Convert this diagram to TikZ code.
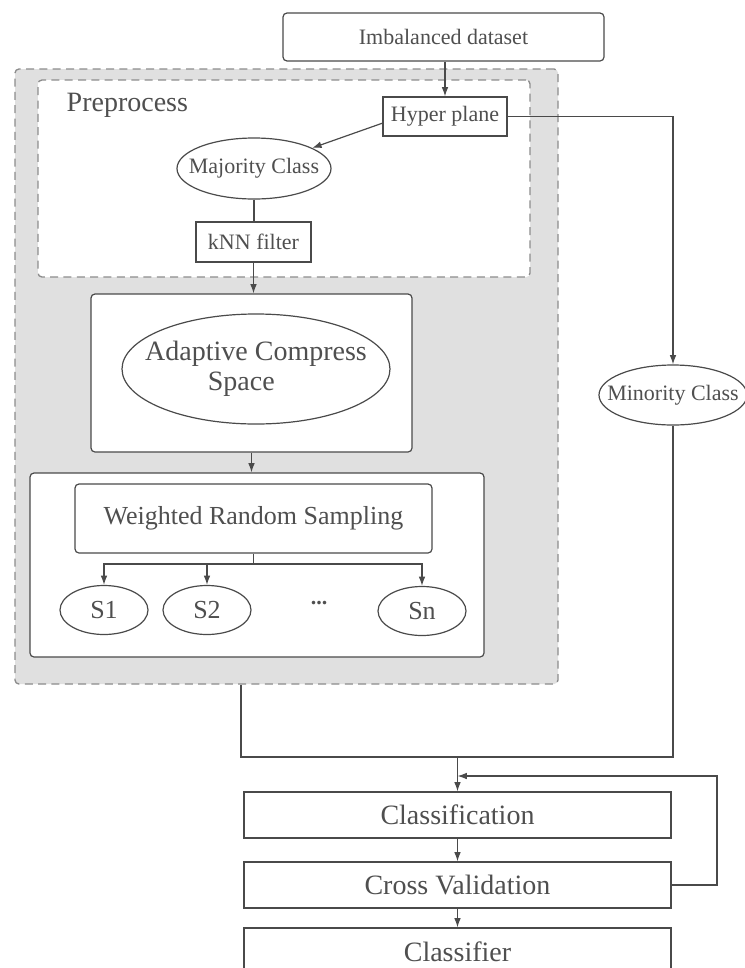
\documentclass[tikz,border=0pt]{standalone}
\usepackage{fontspec}
\setmainfont{Liberation Serif}
\usetikzlibrary{arrows.meta,shapes.geometric,calc}
\definecolor{lc}{HTML}{4A4A4A}
\definecolor{tc}{HTML}{4F4F4F}
\definecolor{gfill}{HTML}{E0E0E0}
\definecolor{gdash}{HTML}{8C8C8C}
\tikzset{
  ln/.style={draw=lc, line width=0.9pt},
  ar/.style={ln, -{Latex[length=7pt,width=5pt]}},
  bx/.style={draw=lc, line width=0.9pt, fill=white, inner sep=0pt, text=tc, align=center},
  rbx/.style={bx, rounded corners=3pt},
  ell/.style={draw=lc, line width=0.9pt, fill=white, ellipse, inner sep=0pt},
  lbl/.style={text=tc, align=center, inner sep=0pt},
  dbox/.style={draw=gdash, line width=1pt, dash pattern=on 6pt off 4pt, rounded corners=3pt, inner sep=0pt},
  fA/.style={font=\fontsize{16.5pt}{19pt}\selectfont},
  fB/.style={font=\fontsize{21pt}{22.5pt}\selectfont},
  fC/.style={font=\fontsize{19.5pt}{22pt}\selectfont},
}
\begin{document}
\begin{tikzpicture}[x=0.75pt,y=-0.75pt]
\clip (0,0) rectangle (745,968);
\fill[white] (0,0) rectangle (745,968);
% containers
\node[dbox, fill=gfill, minimum width=407.25pt, minimum height=461.25pt] (pre) at (286.5,376.5) {};
\node[dbox, fill=white, minimum width=369pt, minimum height=147.75pt] (inner) at (284,178.5) {};
\node[fB, text=tc, anchor=west] (prelbl) at (62,105) {Preprocess};
% nodes
\node[rbx, fA, minimum width=240.75pt, minimum height=36pt] (imb) at (443.5,37) {Imbalanced dataset};
\node[bx, fA, minimum width=93pt, minimum height=29.25pt] (hyper) at (445,116.5) {Hyper plane};
\node[ell, minimum width=115.5pt, minimum height=45.75pt] (maj) at (254,168.5) {};
\node[lbl, fA] (majt) at (maj.center) {Majority Class};
\node[bx, fA, minimum width=86.25pt, minimum height=30pt] (knn) at (253.5,242) {kNN filter};
\node[rbx, minimum width=240.75pt, minimum height=118.5pt] (acsbox) at (251.5,373) {};
\node[ell, minimum width=201pt, minimum height=82.5pt] (acs) at (256,369) {};
\node[lbl, fB] (acst) at (acs.center) {Adaptive Compress\\Space\hspace*{22pt}};
\node[rbx, minimum width=340.5pt, minimum height=138pt] (wrsout) at (257,565) {};
\node[rbx, fC, minimum width=267.75pt, minimum height=51.75pt] (wrs) at (253.5,518.5) {Weighted Random Sampling};
\node[ell, minimum width=66pt, minimum height=36.75pt] (s1) at (104,610) {};
\node[lbl, fC] (s1t) at (s1.center) {S1};
\node[ell, minimum width=66pt, minimum height=36.75pt] (s2) at (207,610) {};
\node[lbl, fC] (s2t) at (s2.center) {S2};
\node[ell, minimum width=66pt, minimum height=36.75pt] (sn) at (422,611) {};
\node[lbl, fC] (snt) at (sn.center) {Sn};
\node[fA, text=tc] (dots) at (319,603) {\textbf{...}};
\node[ell, minimum width=111pt, minimum height=45pt] (mino) at (673,395) {};
\node[lbl, fA] (minot) at (mino.center) {Minority Class};
\node[bx, fB, minimum width=320.25pt, minimum height=34.5pt] (cls) at (457.5,815) {Classification};
\node[bx, fB, minimum width=320.25pt, minimum height=34.5pt] (cv) at (457.5,885) {Cross Validation};
\node[bx, fB, minimum width=320.25pt, minimum height=48pt] (clf) at (457.5,960) {};
\node[lbl, fB] (clft) at (457.5,952) {Classifier};
% connectors
\draw[ar] (hyper.north |- imb.south) -- (hyper.north);
\draw[ar] (hyper.east) -| (mino.north);
\draw[ar] ([yshift=-5pt]hyper.west) -- (maj);
\draw[ln] (maj.south) -- (maj.south |- knn.north);
\draw[ar] (knn.south) -- (knn.south |- acsbox.north);
\draw[ar] (acsbox.south) -- (acsbox.south |- wrsout.north);
\coordinate (bar) at (253.5,564);
\draw[ln] (wrs.south) -- (bar);
\draw[ar] (bar) -| (s1.north);
\draw[ar] (bar) -| (sn.north);
\draw[ar] (s2.north |- bar) -- (s2.north);
\coordinate (jl) at (241,757);
\coordinate (m) at (457.5,757);
\draw[ln] (pre.south -| jl) -- (jl) -- (m);
\draw[ln] (mino.south) |- (m);
\draw[ar] (m) -- (cls.north);
\draw[ar] (cls.south) -- (cv.north);
\draw[ar] (cv.south) -- (clf.north);
\coordinate (fb) at (717,776);
\draw[ar] (cv.east) -| (fb) -- (fb -| cls.north);
\end{tikzpicture}
\end{document}
